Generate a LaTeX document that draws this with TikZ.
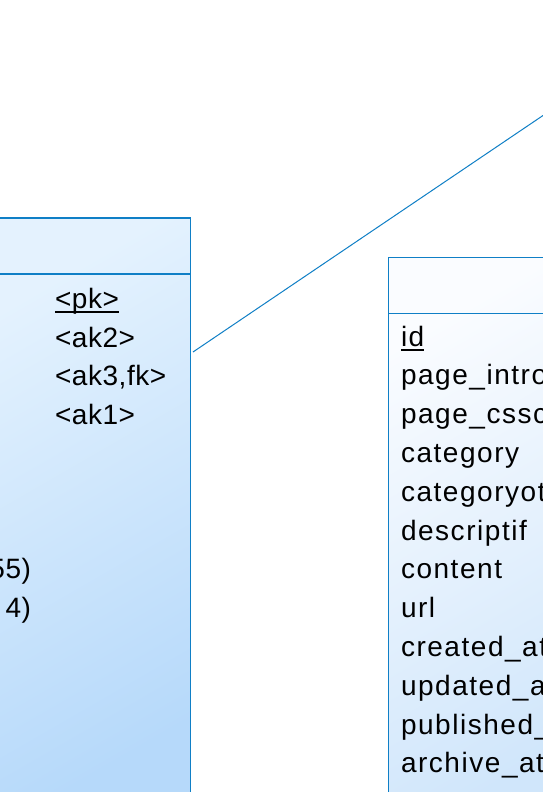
\documentclass[tikz,border=0pt]{standalone}
\usepackage{fontspec}
\setmainfont{Liberation Sans}[LetterSpace=5.5]
\newfontfamily\keyfont{Liberation Sans}[LetterSpace=2]
\definecolor{bordc}{HTML}{0F7FC6}
\definecolor{ltA}{HTML}{E4F2FE}
\definecolor{ltB}{HTML}{B6D9FA}
\definecolor{rtA}{HTML}{FAFCFF}
\definecolor{rtB}{HTML}{D0E6FB}
\newcommand{\fsz}{\fontsize{28}{34}\selectfont}
\begin{document}
\begin{tikzpicture}[x=1pt,y=-1pt,
  tblnode/.style={rectangle, inner sep=0pt, outer sep=0pt, draw=bordc, line width=1.5pt},
  hdrline/.style={draw=bordc, line width=1.2pt},
  fld/.style={anchor=base west, inner sep=0pt, outer sep=0pt, font=\fsz, text=black},
  keyfld/.style={anchor=base west, inner sep=0pt, outer sep=0pt, font=\keyfont\fsz, text=black},
  fldr/.style={anchor=base east, inner sep=0pt, outer sep=0pt, font=\keyfont\fsz, text=black},
  ul/.style={line width=1.5pt, black},
  rel/.style={draw=bordc, line width=1pt}]
\useasboundingbox (0,0) rectangle (543,792);
\fill[white] (0,0) rectangle (543,792);
% left table
\node[tblnode, top color=ltA, bottom color=ltB, shading angle=30,
      minimum width=200pt, minimum height=600pt, anchor=north east] (lt) at (190.5,218) {};
\draw[hdrline] ([yshift=-56pt]lt.north west) -- ([yshift=-56pt]lt.north east);
\node[keyfld] (pk) at (55,308) {<pk>};
\draw[ul] ([yshift=-4pt]pk.base west) -- ([yshift=-4pt]pk.base east);
\node[keyfld] (ak2) at (55,347) {<ak2>};
\node[keyfld] (ak3) at (55,385.5) {<ak3,fk>};
\node[keyfld] (ak1) at (55,424) {<ak1>};
\node[fldr] (t7) at (31,578.5) {55)};
\node[fldr] (t8) at (31,617) {4)};
% right table
\node[tblnode, top color=rtA, bottom color=rtB, shading angle=30,
      minimum width=180pt, minimum height=580pt, anchor=north west] (rt) at (388.3,257.3) {};
\draw[hdrline] ([yshift=-56pt]rt.north west) -- ([yshift=-56pt]rt.north east);
\node[fld] (f0) at (401,346) {id};
\draw[ul] ([yshift=-4pt]f0.base west) -- ([yshift=-4pt]f0.base east);
\node[fld] (f1) at (401,384.8) {page\_intro};
\node[fld] (f2) at (401,423.6) {page\_cssc};
\node[fld] (f3) at (401,462.4) {category};
\node[fld] (f4) at (401,501.2) {categoryot};
\node[fld] (f5) at (401,540) {descriptif};
\node[fld] (f6) at (401,578.8) {content};
\node[fld] (f7) at (401,617.6) {url};
\node[fld] (f8) at (401,656.4) {created\_at};
\node[fld] (f9) at (401,695.2) {updated\_a};
\node[fld] (f10) at (401,734) {published\_};
\node[fld] (f11) at (401,772.8) {archive\_at};
% relationship
\coordinate (ra) at (193,352);
\coordinate (rb) at (543,115.5);
\draw[rel] (ra) -- (rb);
\end{tikzpicture}
\end{document}
